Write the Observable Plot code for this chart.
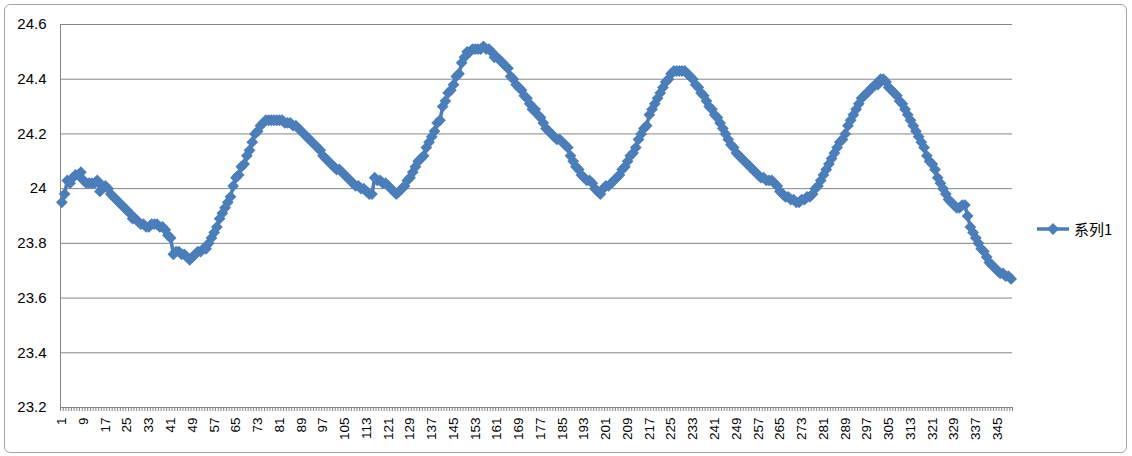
<!DOCTYPE html>
<html>
<head>
<meta charset="utf-8">
<script src="https://cdn.jsdelivr.net/npm/d3@7"></script>
<script src="https://cdn.jsdelivr.net/npm/@observablehq/plot@0.6"></script>
<style>
  html, body { margin: 0; padding: 0; background: #ffffff; }
  #wrap { position: relative; width: 1132px; height: 456px; overflow: hidden; font-family: "Liberation Sans", Arial, sans-serif; }
  #border { position: absolute; left: 4px; top: 4px; width: 1123px; height: 449px; border: 1px solid #a6a6a6; border-radius: 6px; box-sizing: border-box; pointer-events: none; }
  #chart { position: absolute; left: 0; top: 0; }
  #legend { position: absolute; left: 1036px; top: 218px; display: flex; align-items: center; font-family: "Noto Sans CJK SC", "Noto Sans", sans-serif; font-size: 15px; color: #000; }
  #legend span { margin-left: 4px; }
</style>
</head>
<body>
<div id="wrap">
  <div id="chart"></div>
  <div id="legend"></div>
  <div id="border"></div>
</div>
<script>
// ---- data ----
const seriesName = "系列1";
const values = [
  23.95,23.98,24.03,24.02,24.04,24.05,24.05,24.06,24.03,24.02,
  24.02,24.02,24.02,24.03,23.99,24.01,24.01,24.00,23.98,23.97,
  23.96,23.95,23.94,23.93,23.92,23.91,23.89,23.89,23.88,23.87,
  23.87,23.86,23.86,23.87,23.87,23.87,23.86,23.86,23.85,23.83,
  23.82,23.76,23.77,23.77,23.76,23.76,23.75,23.74,23.75,23.76,
  23.77,23.77,23.78,23.78,23.80,23.82,23.84,23.86,23.89,23.91,
  23.93,23.95,23.97,24.01,24.04,24.05,24.08,24.09,24.12,24.14,
  24.17,24.20,24.21,24.23,24.24,24.25,24.25,24.25,24.25,24.25,
  24.25,24.25,24.24,24.24,24.24,24.23,24.23,24.22,24.21,24.20,
  24.19,24.18,24.17,24.16,24.15,24.14,24.12,24.11,24.10,24.09,
  24.08,24.07,24.07,24.06,24.05,24.04,24.03,24.02,24.01,24.01,
  24.00,24.00,23.99,23.98,23.98,24.04,24.03,24.03,24.02,24.02,
  24.01,24.00,23.99,23.98,23.99,24.00,24.01,24.03,24.04,24.06,
  24.08,24.10,24.11,24.12,24.15,24.17,24.19,24.21,24.24,24.25,
  24.30,24.32,24.35,24.36,24.38,24.41,24.42,24.46,24.48,24.50,
  24.50,24.51,24.51,24.51,24.51,24.52,24.51,24.51,24.50,24.48,
  24.48,24.47,24.46,24.45,24.44,24.41,24.40,24.38,24.37,24.36,
  24.34,24.33,24.31,24.29,24.29,24.27,24.26,24.24,24.22,24.21,
  24.20,24.19,24.18,24.18,24.17,24.16,24.15,24.12,24.10,24.08,
  24.07,24.05,24.04,24.03,24.03,24.02,24.00,23.99,23.98,24.00,
  24.01,24.01,24.02,24.03,24.04,24.05,24.07,24.08,24.10,24.12,
  24.13,24.15,24.18,24.20,24.22,24.23,24.27,24.29,24.31,24.33,
  24.35,24.37,24.39,24.40,24.42,24.43,24.43,24.43,24.43,24.43,
  24.42,24.41,24.40,24.38,24.37,24.35,24.34,24.32,24.30,24.29,
  24.27,24.26,24.24,24.22,24.20,24.18,24.16,24.15,24.13,24.12,
  24.11,24.10,24.09,24.08,24.07,24.06,24.05,24.04,24.04,24.03,
  24.03,24.03,24.02,24.01,23.99,23.98,23.97,23.97,23.96,23.96,
  23.95,23.95,23.96,23.96,23.97,23.97,23.98,24.00,24.01,24.03,
  24.05,24.07,24.09,24.11,24.13,24.15,24.17,24.18,24.20,24.23,
  24.25,24.27,24.29,24.31,24.33,24.34,24.35,24.36,24.37,24.38,
  24.38,24.40,24.40,24.39,24.37,24.36,24.35,24.34,24.32,24.31,
  24.29,24.27,24.25,24.23,24.21,24.19,24.17,24.15,24.12,24.10,
  24.09,24.07,24.04,24.02,24.00,23.98,23.96,23.95,23.94,23.93,
  23.93,23.94,23.94,23.90,23.86,23.84,23.82,23.80,23.78,23.77,
  23.75,23.73,23.72,23.71,23.70,23.69,23.69,23.68,23.68,23.67
];
const categories = values.map((_, i) => i + 1);
const xTickLabels = [1,9,17,25,33,41,49,57,65,73,81,89,97,105,113,121,129,137,145,153,161,169,177,185,193,201,209,217,225,233,241,249,257,265,273,281,289,297,305,313,321,329,337,345];
const yTicks = [23.2, 23.4, 23.6, 23.8, 24, 24.2, 24.4, 24.6];

// ---- chart ----
const data = categories.map((c, i) => ({cat: c, value: values[i]}));
const boundaries = [...categories.map(c => c - 0.5), categories[categories.length - 1] + 0.5];
const lineColor = "#4a7ebb";
const gridColor = "#868686";

const chart = Plot.plot({
  width: 1132,
  height: 456,
  marginLeft: 60,
  marginRight: 120,
  marginTop: 24,
  marginBottom: 49,
  style: {fontFamily: "'Liberation Sans', Arial, sans-serif", color: "#000", background: "transparent"},
  x: {type: "linear", domain: [0.5, categories.length + 0.5], axis: null},
  y: {type: "linear", domain: [23.2, 24.6], axis: null},
  marks: [
    Plot.gridY(yTicks, {stroke: gridColor, strokeOpacity: 1, strokeWidth: 1}),
    Plot.ruleX([0.5], {stroke: gridColor, strokeWidth: 1}),
    Plot.axisY(yTicks, {label: null, tickSize: 0, tickPadding: 14, fontSize: 15, tickFormat: d => String(+d.toFixed(1))}),
    Plot.axisX(boundaries, {label: null, tickSize: 4, tickFormat: () => "", stroke: gridColor}),
    Plot.axisX(xTickLabels, {label: null, tickSize: 0, tickPadding: 10, tickRotate: -90, fontSize: 13.5, tickFormat: d => String(d)}),
    Plot.line(data, {x: "cat", y: "value", stroke: lineColor, strokeWidth: 3.5}),
    Plot.dot(data, {x: "cat", y: "value", symbol: "diamond2", r: 5.3, fill: lineColor, stroke: "none"})
  ]
});
document.getElementById("chart").appendChild(chart);

// ---- legend ----
const legend = document.getElementById("legend");
legend.innerHTML = `<svg width="34" height="20"><line x1="1" y1="10" x2="33" y2="10" stroke="${lineColor}" stroke-width="3.5"/><path d="M17,4L23,10L17,16L11,10Z" fill="${lineColor}"/></svg><span>${seriesName}</span>`;
</script>
</body>
</html>
